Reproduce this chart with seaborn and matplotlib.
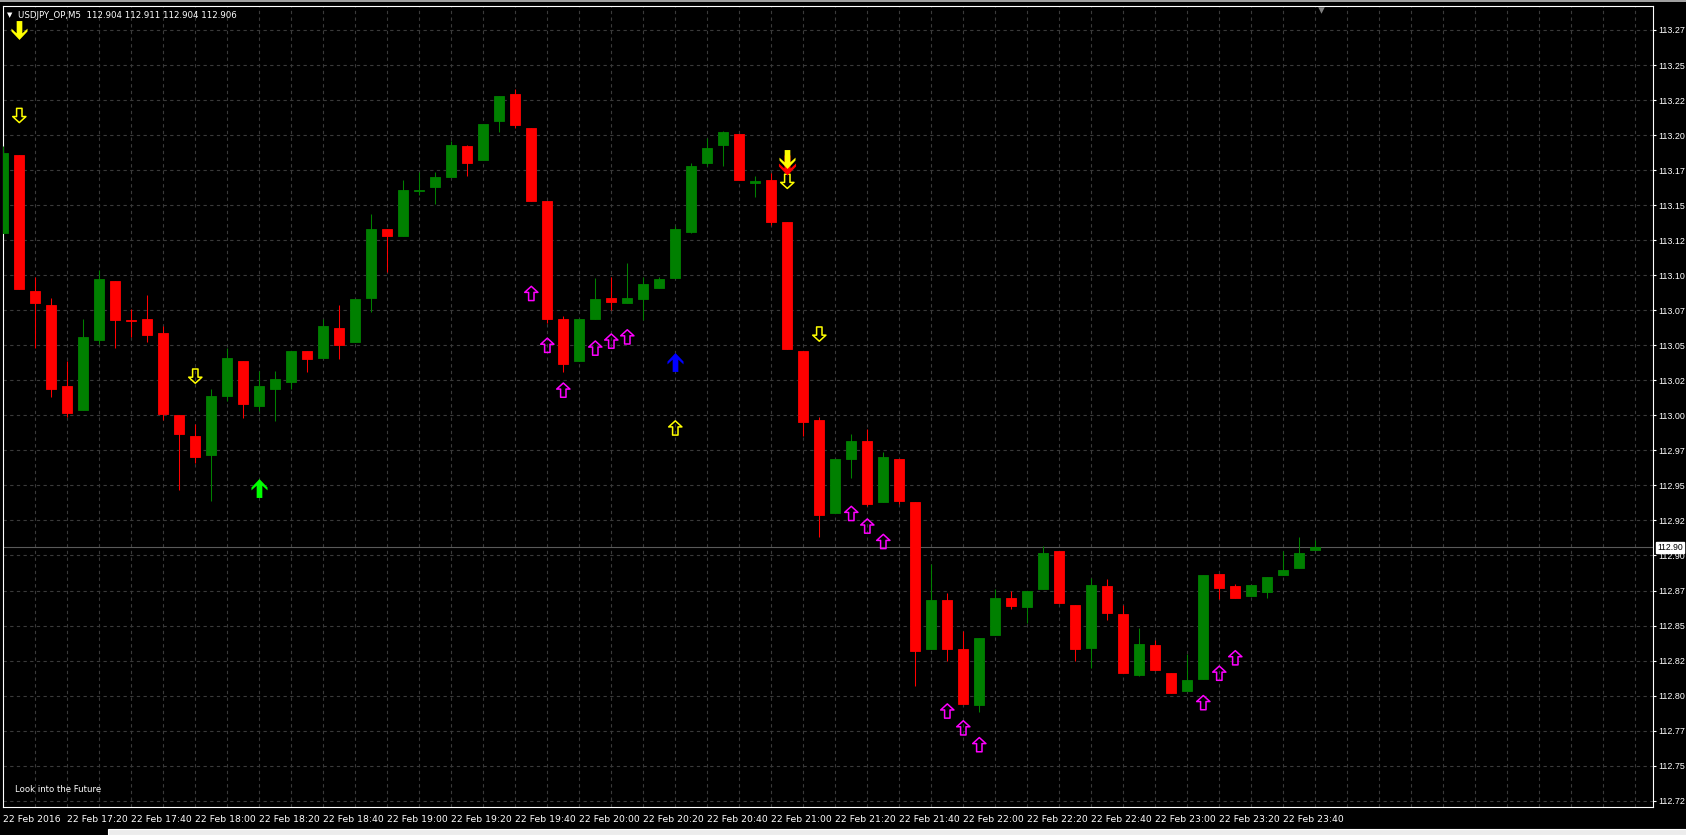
import numpy as np
import matplotlib
matplotlib.use("Agg")
import matplotlib.pyplot as plt
import matplotlib.transforms as mtransforms
from matplotlib.path import Path
from matplotlib.patches import Rectangle
import seaborn as sns

# USDJPY_OP M5 candles, 22 Feb 2016 17:00 -> 23:50
opens = [113.130, 113.186, 113.089, 113.079, 113.021, 113.004, 113.054, 113.096, 113.068, 113.069,
         113.059, 113.000, 112.985, 112.972, 113.014, 113.039, 113.007, 113.019, 113.024, 113.046,
         113.041, 113.062, 113.052, 113.084, 113.133, 113.128, 113.160, 113.163, 113.170, 113.192,
         113.182, 113.210, 113.229, 113.205, 113.153, 113.069, 113.039, 113.069, 113.084, 113.080,
         113.083, 113.091, 113.098, 113.131, 113.180, 113.193, 113.201, 113.166, 113.168, 113.138,
         113.046, 112.997, 112.930, 112.969, 112.982, 112.938, 112.969, 112.938, 112.833, 112.868,
         112.833, 112.793, 112.843, 112.870, 112.863, 112.876, 112.903, 112.865, 112.834, 112.878,
         112.858, 112.815, 112.836, 112.816, 112.803, 112.812, 112.887, 112.878, 112.871, 112.874,
         112.886, 112.891, 112.904]
highs = [113.192, 113.186, 113.099, 113.084, 113.039, 113.069, 113.104, 113.096, 113.076, 113.086,
         113.064, 113.000, 112.994, 113.019, 113.048, 113.039, 113.032, 113.032, 113.046, 113.046,
         113.069, 113.079, 113.083, 113.144, 113.133, 113.168, 113.174, 113.174, 113.196, 113.193,
         113.208, 113.228, 113.233, 113.205, 113.153, 113.071, 113.069, 113.098, 113.099, 113.109,
         113.099, 113.099, 113.135, 113.180, 113.198, 113.203, 113.201, 113.171, 113.173, 113.138,
         113.046, 112.999, 112.969, 112.987, 112.990, 112.974, 112.969, 112.938, 112.894, 112.873,
         112.846, 112.841, 112.876, 112.875, 112.875, 112.907, 112.903, 112.865, 112.884, 112.883,
         112.865, 112.848, 112.840, 112.816, 112.830, 112.886, 112.887, 112.880, 112.879, 112.885,
         112.903, 112.913, 112.911]
lows = [113.130, 113.090, 113.048, 113.013, 112.999, 113.004, 113.051, 113.048, 113.056, 113.052,
        112.997, 112.947, 112.966, 112.939, 113.010, 112.998, 113.003, 112.996, 113.019, 113.031,
        113.041, 113.040, 113.052, 113.074, 113.102, 113.128, 113.157, 113.151, 113.170, 113.171,
        113.182, 113.202, 113.205, 113.153, 113.066, 113.031, 113.039, 113.069, 113.075, 113.080,
        113.068, 113.091, 113.098, 113.130, 113.178, 113.178, 113.168, 113.156, 113.136, 113.047,
        112.985, 112.913, 112.930, 112.955, 112.935, 112.938, 112.937, 112.807, 112.833, 112.825,
        112.794, 112.788, 112.843, 112.862, 112.852, 112.876, 112.866, 112.825, 112.820, 112.854,
        112.816, 112.814, 112.818, 112.802, 112.803, 112.812, 112.869, 112.870, 112.871, 112.870,
        112.886, 112.891, 112.904]
closes = [113.187, 113.090, 113.080, 113.019, 113.002, 113.056, 113.097, 113.068, 113.067, 113.057,
          113.001, 112.987, 112.970, 113.014, 113.041, 113.008, 113.021, 113.026, 113.046, 113.040,
          113.064, 113.050, 113.083, 113.133, 113.128, 113.161, 113.161, 113.170, 113.193, 113.180,
          113.208, 113.228, 113.207, 113.153, 113.069, 113.037, 113.069, 113.083, 113.081, 113.084,
          113.094, 113.097, 113.133, 113.178, 113.191, 113.202, 113.168, 113.167, 113.138, 113.047,
          112.995, 112.929, 112.969, 112.982, 112.937, 112.970, 112.939, 112.832, 112.868, 112.833,
          112.794, 112.841, 112.870, 112.864, 112.875, 112.902, 112.866, 112.833, 112.879, 112.859,
          112.816, 112.837, 112.818, 112.802, 112.811, 112.886, 112.877, 112.870, 112.879, 112.885,
          112.890, 112.902, 112.906]

# time axis labels (every 4th bar)
time_label_idx = [0, 4, 8, 12, 16, 20, 24, 28, 32, 36, 40, 44, 48, 52, 56, 60, 64, 68, 72, 76, 80]
time_labels = ["22 Feb 2016", "22 Feb 17:20", "22 Feb 17:40", "22 Feb 18:00", "22 Feb 18:20",
               "22 Feb 18:40", "22 Feb 19:00", "22 Feb 19:20", "22 Feb 19:40", "22 Feb 20:00",
               "22 Feb 20:20", "22 Feb 20:40", "22 Feb 21:00", "22 Feb 21:20", "22 Feb 21:40",
               "22 Feb 22:00", "22 Feb 22:20", "22 Feb 22:40", "22 Feb 23:00", "22 Feb 23:20",
               "22 Feb 23:40"]

price_ticks = [113.275, 113.250, 113.225, 113.200, 113.175, 113.150, 113.125, 113.100, 113.075,
               113.050, 113.025, 113.000, 112.975, 112.950, 112.925, 112.900, 112.875, 112.850,
               112.825, 112.800, 112.775, 112.750, 112.725]
price_labels = ["113.27", "113.25", "113.22", "113.20", "113.17", "113.15", "113.12", "113.10",
                "113.07", "113.05", "113.02", "113.00", "112.97", "112.95", "112.92", "112.90",
                "112.87", "112.85", "112.82", "112.80", "112.77", "112.75", "112.72"]

# indicator signals
magenta_up_idx = [33, 34, 35, 37, 38, 39, 53, 54, 55, 59, 60, 61, 75, 76, 77]
magenta_up_price = [113.087, 113.050, 113.018, 113.048, 113.053, 113.056, 112.930, 112.921, 112.910,
                    112.789, 112.777, 112.765, 112.795, 112.816, 112.827]
yellow_down_idx = [1, 12, 49, 51]
yellow_down_price = [113.214, 113.028, 113.167, 113.058]
yellow_up_idx = [42]
yellow_up_price = [112.991]
green_buy_idx = [16]
green_buy_price = [112.948]
blue_buy_idx = [42]
blue_buy_price = [113.038]
yellow_sell_idx = [1, 49]
yellow_sell_price = [113.275, 113.183]
red_sell_idx = [49]
red_sell_price = [113.179]

W, H = 1686, 835
BG = "#000000"
GRID = "#3a3a3a"
BULL = "#008000"
BEAR = "#ff0000"

sns.set_theme(style="dark", rc={"axes.facecolor": BG, "figure.facecolor": BG})
plt.rcParams['font.family'] = ['DejaVu Sans']

# marker shapes
hollow_up = Path([(0, 1), (0.93, 0.15), (0.38, 0.15), (0.38, -1), (-0.38, -1), (-0.38, 0.15),
                  (-0.93, 0.15), (0, 1)], closed=True)
hollow_down = Path([(x, -y) for x, y in hollow_up.vertices], closed=True)
solid_up = Path([(0, 1), (0.85, 0.1), (0.85, -0.2), (0.3, 0.3), (0.3, -1), (-0.3, -1), (-0.3, 0.3),
                 (-0.85, -0.2), (-0.85, 0.1), (0, 1)], closed=True)
solid_down = Path([(x, -y) for x, y in solid_up.vertices], closed=True)

fig = plt.figure(figsize=(W / 100, H / 100), dpi=100)
ax = fig.add_axes([2.7 / W, 1 - 807 / H, (1653 - 2.7) / W, (807 - 6) / H])
ax.set_facecolor(BG)

x = np.arange(len(opens))
o = np.array(opens)
c = np.array(closes)
bull = c > o
colors = np.where(bull, BULL, BEAR)

body = c - o
body = np.where(np.abs(body) < 0.0008, np.where(bull, 0.0008, -0.0008), body)

ax.axhline(closes[-1], color="#5a5a5a", linewidth=0.8, zorder=2)
ax.vlines(x, lows, highs, colors=colors, linewidth=0.75, zorder=3)
ax.bar(x, body, bottom=o, width=0.62, color=colors, edgecolor=colors, linewidth=0.6, zorder=4)

# signal arrows
ax.scatter(magenta_up_idx, magenta_up_price, marker=hollow_up, s=105, facecolors="none",
           edgecolors="#ff00ff", linewidths=1.1, zorder=6)
ax.scatter(yellow_down_idx, yellow_down_price, marker=hollow_down, s=105, facecolors="none",
           edgecolors="#ffff00", linewidths=1.1, zorder=6)
ax.scatter(yellow_up_idx, yellow_up_price, marker=hollow_up, s=105, facecolors="none",
           edgecolors="#ffff00", linewidths=1.1, zorder=6)
ax.scatter(green_buy_idx, green_buy_price, marker=solid_up, s=185, color="#00ff00",
           linewidths=0, zorder=6)
ax.scatter(blue_buy_idx, blue_buy_price, marker=solid_up, s=185, color="#0000ff",
           linewidths=0, zorder=6)
ax.scatter(red_sell_idx, red_sell_price, marker=solid_down, s=210, color="#ff0000",
           linewidths=0, zorder=6)
ax.scatter(yellow_sell_idx, yellow_sell_price, marker=solid_down, s=185, color="#ffff00",
           linewidths=0, zorder=7)

# axes range / ticks
ax.set_xlim((2.7 - 3.3) / 16, (1653 - 3.3) / 16)
ax.set_ylim(113.275 - 777 / 1401.3, 113.275 + 24 / 1401.3)

ax.set_xticks(time_label_idx)
ax.set_xticklabels(time_labels)
ax.set_xticks(np.arange(0, 104, 2), minor=True)
ax.tick_params(axis="x", which="minor", length=0)
ax.tick_params(axis="x", which="major", length=4, width=0.8, color="white", direction="out",
               labelsize=6.7, labelcolor="white", pad=1.5)
for lbl in ax.get_xticklabels():
    lbl.set_horizontalalignment("left")

ax.yaxis.tick_right()
ax.set_yticks(price_ticks)
ax.set_yticklabels(price_labels)
ax.tick_params(axis="y", length=2.5, width=0.8, color="white", direction="out",
               labelsize=6.4, labelcolor="white", pad=1.0)
for lbl in ax.get_yticklabels():
    lbl.set_fontfamily("Liberation Sans")

ax.grid(which="both", axis="x", color=GRID, linestyle=(0, (3, 3)), linewidth=0.8)
ax.grid(which="major", axis="y", color=GRID, linestyle=(0, (3, 3)), linewidth=0.8)
ax.set_axisbelow(True)

for sp in ax.spines.values():
    sp.set_color("white")
    sp.set_linewidth(0.8)
    sp.set_visible(True)

# current price tag
trans = mtransforms.blended_transform_factory(ax.transAxes, ax.transData)
ax.text(1.0026, closes[-1], "112.90", transform=trans, color="black", fontsize=6.2,
        family="Liberation Sans", ha="left", va="center", clip_on=False, zorder=8,
        bbox=dict(boxstyle="square,pad=0.12", fc="white", ec="white"))

# chart shift marker
ax.scatter([82.35], [113.2895], marker="v", s=22, color="#808080", linewidths=0, clip_on=False, zorder=8)

# header and footer texts
fig.text(9.5 / W, 1 - 15 / H, "\u25BC", color="white", fontsize=5, ha="center", va="center")
fig.text(18 / W, 1 - 15 / H, "USDJPY_OP,M5  112.904 112.911 112.904 112.906", color="white",
         fontsize=6.2, ha="left", va="center")
fig.text(15 / W, 1 - 790 / H, "Look into the Future", color="white", fontsize=6.1,
         ha="left", va="center")

# window frame bits
fig.patches.append(Rectangle((0, 1 - 2 / H), 1, 2 / H, transform=fig.transFigure,
                             facecolor="#a0a0a0", edgecolor="none"))
fig.patches.append(Rectangle((108 / W, 0), 1, 6 / H, transform=fig.transFigure,
                             facecolor="#ececec", edgecolor="white", linewidth=0.8))

fig.savefig("out.png", dpi=100, facecolor=BG)
